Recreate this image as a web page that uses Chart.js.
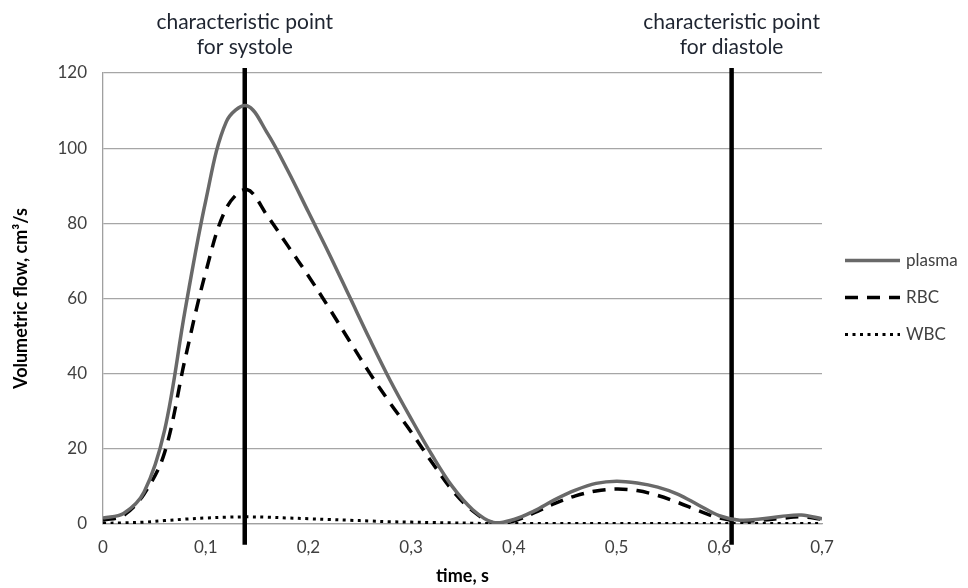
<!DOCTYPE html>
<html>
<head>
<meta charset="utf-8">
<script src="https://cdn.jsdelivr.net/npm/chart.js@4.4.1/dist/chart.umd.min.js"></script>
<style>
  html, body { margin: 0; padding: 0; background: #fff; }
  #wrap { width: 968px; height: 588px; position: relative; }
</style>
</head>
<body>
<div id="wrap"><canvas id="flowChart"></canvas></div>
<script>
// time axis (s) and the three flow series (cm3/s)
const time = [0, 0.02, 0.04, 0.06, 0.08, 0.1, 0.12, 0.14, 0.16, 0.18, 0.2, 0.22, 0.24, 0.26, 0.28, 0.3, 0.32, 0.34,
  0.36, 0.38, 0.4, 0.42, 0.44, 0.46, 0.48, 0.5, 0.52, 0.54, 0.56, 0.58, 0.6, 0.62, 0.64, 0.66, 0.68, 0.7]
const plasma = [1.6, 2.8, 8.5, 25, 57, 86, 107, 111.3, 104, 94, 83, 72, 60.5, 49, 38, 28, 18.5, 10,
  3.8, 0.4, 1.2, 3.5, 6.5, 9, 10.8, 11.4, 10.9, 9.8, 7.9, 5.0, 2.2, 1.0, 1.3, 2.0, 2.4, 1.4]
const rbc = [1.0, 2.3, 8, 19, 44, 67, 84, 89, 82, 74, 66, 57.5, 48.7, 40, 32, 24.5, 16.5, 9,
  3.5, 0.3, 0.8, 3, 5.5, 7.5, 8.8, 9.3, 8.9, 7.6, 5.7, 3.5, 1.6, 0.8, 1.0, 1.5, 1.9, 1.3]
const wbc = [0.2, 0.3, 0.5, 0.9, 1.3, 1.6, 1.8, 1.9, 1.8, 1.6, 1.4, 1.2, 1.0, 0.8, 0.6, 0.5, 0.4, 0.3,
  0.2, 0.1, 0.1, 0.1, 0.1, 0.1, 0.1, 0.1, 0.1, 0.1, 0.1, 0.1, 0.1, 0.1, 0.1, 0.1, 0.1, 0.1]
const seriesNames = ['plasma', 'RBC', 'WBC']

// characteristic points (vertical markers)
const markerTimes = [0.138, 0.612]
const markerLabels = [['characteristic point', 'for systole'], ['characteristic point', 'for diastole']]
const markerSpan = [-5.5, 121.3]

const yTicks = [0, 20, 40, 60, 80, 100, 120]

const toPoints = (values) => values.map((v, i) => ({ x: time[i], y: v }))

const markerDatasets = markerTimes.map((t) => ({
  label: 'marker',
  data: markerSpan.map((v) => ({ x: t, y: v })),
  borderColor: '#000',
  borderWidth: 4.5,
  pointRadius: 0,
  tension: 0,
  clip: false
}))

// draws the text above each marker line
const markerText = {
  id: 'markerText',
  afterDraw(chart) {
    const ctx = chart.ctx
    const xScale = chart.scales.x
    ctx.save()
    ctx.font = '21px Lato'
    ctx.fillStyle = '#1e2430'
    ctx.textAlign = 'center'
    ctx.textBaseline = 'middle'
    markerTimes.forEach((t, i) => {
      const px = xScale.getPixelForValue(t)
      ctx.fillText(markerLabels[i][0], px, 22)
      ctx.fillText(markerLabels[i][1], px, 47)
    })
    ctx.restore()
  }
}

// legend on the right, drawn with each dataset's own line style
const sideLegend = {
  id: 'sideLegend',
  afterDraw(chart) {
    const ctx = chart.ctx
    const area = chart.chartArea
    const x0 = area.right + 23
    const midY = (area.top + area.bottom) / 2
    ctx.save()
    ctx.font = '17px Lato'
    ctx.textBaseline = 'middle'
    seriesNames.forEach((name, i) => {
      const ds = chart.data.datasets[i]
      const y = midY + (i - 1) * 37 - 1
      ctx.strokeStyle = ds.borderColor
      ctx.lineWidth = ds.borderWidth
      ctx.setLineDash(ds.borderDash || [])
      ctx.beginPath()
      ctx.moveTo(x0, y)
      ctx.lineTo(x0 + 55, y)
      ctx.stroke()
      ctx.setLineDash([])
      ctx.fillStyle = '#404040'
      ctx.fillText(name, x0 + 61, y)
    })
    ctx.restore()
  }
}

const flowChart = new Chart(document.getElementById('flowChart').getContext('2d'), {
  type: 'line',
  data: {
    datasets: [
      {
        label: seriesNames[0],
        data: toPoints(plasma),
        borderColor: '#696969',
        borderWidth: 3.5,
        pointRadius: 0,
        tension: 0.35
      },
      {
        label: seriesNames[1],
        data: toPoints(rbc),
        borderColor: '#000',
        borderWidth: 3.5,
        borderDash: [13, 9],
        pointRadius: 0,
        tension: 0.35
      },
      {
        label: seriesNames[2],
        data: toPoints(wbc),
        borderColor: '#000',
        borderWidth: 3,
        borderDash: [3, 4.5],
        pointRadius: 0,
        tension: 0.35
      },
      ...markerDatasets
    ]
  },
  options: {
    responsive: true,
    maintainAspectRatio: false,
    animation: false,
    layout: {
      padding: { top: 73, left: 0, bottom: 0, right: 146 }
    },
    scales: {
      x: {
        type: 'linear',
        min: 0,
        max: 0.7,
        afterFit: (scale) => { scale.height = 64 },
        ticks: {
          stepSize: 0.1,
          padding: 13,
          color: '#404040',
          font: { family: 'Lato', size: 17 },
          callback: (v) => (v === 0 ? '0' : v.toFixed(1).replace('.', ','))
        },
        grid: { display: false, drawTicks: false },
        border: { color: '#a0a0a0', width: 1.3 },
        title: {
          display: true,
          text: 'time, s',
          color: '#000',
          font: { family: 'Lato', size: 18, weight: 'bold' },
          padding: { top: 0, bottom: 1 }
        }
      },
      y: {
        min: 0,
        max: 120,
        afterFit: (scale) => { scale.width = 103 },
        afterBuildTicks: (scale) => { scale.ticks = yTicks.map((v) => ({ value: v })) },
        ticks: {
          padding: 16,
          color: '#404040',
          font: { family: 'Lato', size: 17 }
        },
        grid: { color: '#a6a6a6', lineWidth: 1.3, drawTicks: false },
        border: { color: '#a0a0a0', width: 1.3 },
        title: {
          display: true,
          text: 'Volumetric flow, cm³/s',
          color: '#000',
          font: { family: 'Lato', size: 18, weight: 'bold' },
          padding: { top: 10, bottom: 0 }
        }
      }
    },
    plugins: {
      legend: { display: false },
      tooltip: { enabled: false }
    }
  },
  plugins: [markerText, sideLegend]
})
</script>
</body>
</html>
